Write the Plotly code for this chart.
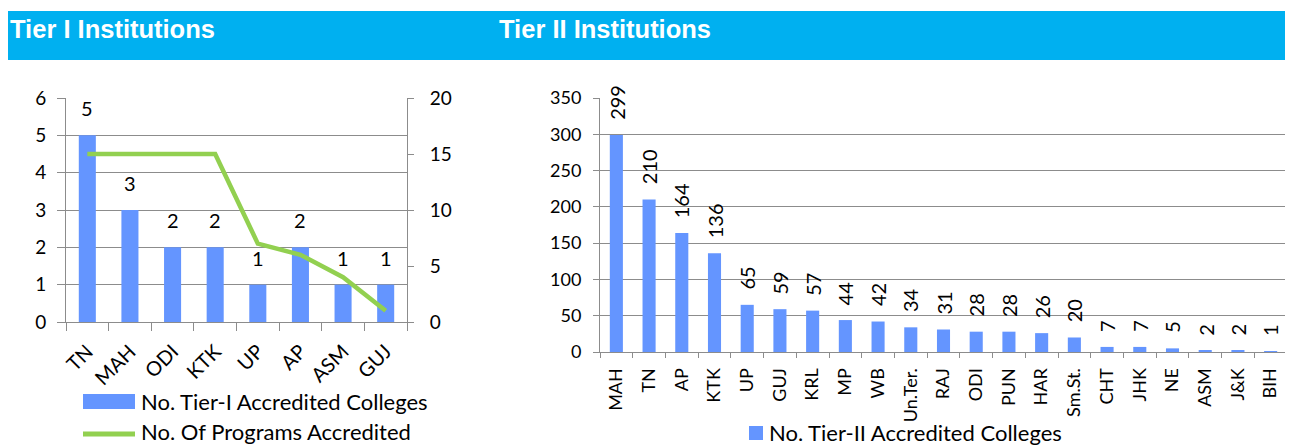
import plotly.graph_objects as go

# page body adds an 8px margin: lay the figure out in reference pixels shifted by it
OX, OY = 8, 8
W, H = 1285, 438

# ---- data ----
tier1_states = ["TN", "MAH", "ODI", "KTK", "UP", "AP", "ASM", "GUJ"]
tier1_colleges = [5, 3, 2, 2, 1, 2, 1, 1]
tier1_programs = [15, 15, 15, 15, 7, 6, 4, 1]

tier2_states = ["MAH", "TN", "AP", "KTK", "UP", "GUJ", "KRL", "MP", "WB", "Un.Ter.",
                "RAJ", "ODI", "PUN", "HAR", "Sm.St.", "CHT", "JHK", "NE", "ASM", "J&K", "BIH"]
tier2_colleges = [299, 210, 164, 136, 65, 59, 57, 44, 42, 34,
                  31, 28, 28, 26, 20, 7, 7, 5, 2, 2, 1]

left_y_ticks = [0, 1, 2, 3, 4, 5, 6]
left_y2_ticks = [0, 5, 10, 15, 20]
right_y_ticks = [0, 50, 100, 150, 200, 250, 300, 350]

BAR = "#6495FF"
LINE = "#92D050"
GRID = "#8C8C8C"
FONT = "Lato"

def px(x):
    return (x - OX) / W

def py(y):
    return (H - (y - OY)) / H

fig = go.Figure()

fig.add_trace(go.Bar(x=tier1_states, y=tier1_colleges, marker_color=BAR,
                     xaxis="x", yaxis="y", showlegend=False,
                     name="No. Tier-I Accredited Colleges"))
fig.add_trace(go.Scatter(x=tier1_states, y=tier1_programs, mode="lines",
                         line=dict(color=LINE, width=4.5),
                         xaxis="x", yaxis="y2", showlegend=False,
                         name="No. Of Programs Accredited"))
fig.add_trace(go.Bar(x=tier2_states, y=tier2_colleges, marker_color=BAR,
                     xaxis="x3", yaxis="y3", showlegend=False,
                     name="No. Tier-II Accredited Colleges"))

annotations = []
for s, v in zip(tier1_states, tier1_colleges):
    annotations.append(dict(x=s, y=v, xref="x", yref="y", text=str(v), showarrow=False,
                            yanchor="bottom", yshift=13, font=dict(family=FONT, size=20, color="black")))
for s, v in zip(tier2_states, tier2_colleges):
    annotations.append(dict(x=s, y=v, xref="x3", yref="y3", text=str(v), showarrow=False,
                            textangle=-90, yanchor="bottom", yshift=13,
                            font=dict(family=FONT, size=20, color="black")))

# banner titles
annotations.append(dict(x=px(8), y=py(29), xref="paper", yref="paper", xanchor="left", yanchor="middle",
                        text="<b>Tier I Institutions</b>", showarrow=False,
                        font=dict(family="Liberation Sans", size=25.5, color="white")))
annotations.append(dict(x=px(497), y=py(29), xref="paper", yref="paper", xanchor="left", yanchor="middle",
                        text="<b>Tier II Institutions</b>", showarrow=False,
                        font=dict(family="Liberation Sans", size=25.5, color="white")))

# custom legends
annotations.append(dict(x=px(139), y=py(401), xref="paper", yref="paper", xanchor="left", yanchor="middle",
                        text="No. Tier-I Accredited Colleges", showarrow=False,
                        font=dict(family=FONT, size=22, color="black")))
annotations.append(dict(x=px(139), y=py(431), xref="paper", yref="paper", xanchor="left", yanchor="middle",
                        text="No. Of Programs Accredited", showarrow=False,
                        font=dict(family=FONT, size=22, color="black")))
annotations.append(dict(x=px(767), y=py(432), xref="paper", yref="paper", xanchor="left", yanchor="middle",
                        text="No. Tier-II Accredited Colleges", showarrow=False,
                        font=dict(family=FONT, size=22, color="black")))

shapes = [
    dict(type="rect", xref="paper", yref="paper", x0=px(8), x1=px(1293), y0=py(60), y1=py(11),
         fillcolor="#00B0F0", line=dict(width=0), layer="below"),
    dict(type="rect", xref="paper", yref="paper", x0=px(83), x1=px(135), y0=py(409), y1=py(394),
         fillcolor=BAR, line=dict(width=0)),
    dict(type="line", xref="paper", yref="paper", x0=px(83), x1=px(135), y0=py(434), y1=py(434),
         line=dict(color=LINE, width=5)),
    dict(type="rect", xref="paper", yref="paper", x0=px(749), x1=px(763), y0=py(440), y1=py(426),
         fillcolor=BAR, line=dict(width=0)),
]

tickfont = dict(family=FONT, size=18, color="black")
axis_common = dict(showline=True, linecolor=GRID, linewidth=1, ticks="outside", tickcolor=GRID,
                   tickwidth=1, fixedrange=True, automargin=False)

fig.update_layout(
    template="none",
    width=W, height=H, margin=dict(l=0, r=0, t=0, b=0, pad=0, autoexpand=False),
    paper_bgcolor="white", plot_bgcolor="white",
    bargap=0.6, showlegend=False,
    annotations=annotations, shapes=shapes,
    xaxis=dict(domain=[px(66), px(407)], anchor="y", type="category", tickson="boundaries",
               ticklen=8, tickangle=-45, showgrid=False, ticklabelstandoff=9,
               tickfont=dict(family=FONT, size=20, color="black"), **axis_common),
    yaxis=dict(domain=[py(322), py(98)], anchor="x", range=[0, 6], tickvals=left_y_ticks,
               showgrid=True, gridcolor=GRID, gridwidth=1, zeroline=False, ticklen=8,
               ticklabelstandoff=7, tickfont=dict(family=FONT, size=19, color="black"), **axis_common),
    yaxis2=dict(overlaying="y", side="right", anchor="x", range=[0, 20], tickvals=left_y2_ticks,
                showgrid=False, zeroline=False, ticklen=6, ticklabelstandoff=12,
                tickfont=dict(family=FONT, size=19, color="black"), **axis_common),
    xaxis3=dict(domain=[px(600), px(1287)], anchor="y3", type="category", tickson="boundaries",
                ticklen=5, tickangle=-90, showgrid=False, ticklabelstandoff=8, tickfont=tickfont,
                **axis_common),
    yaxis3=dict(domain=[py(352), py(98)], anchor="x3", range=[0, 350], tickvals=right_y_ticks,
                showgrid=True, gridcolor=GRID, gridwidth=1, zeroline=False, ticklen=6,
                ticklabelstandoff=8, tickfont=tickfont, **axis_common),
)

fig.write_html("out.html")
